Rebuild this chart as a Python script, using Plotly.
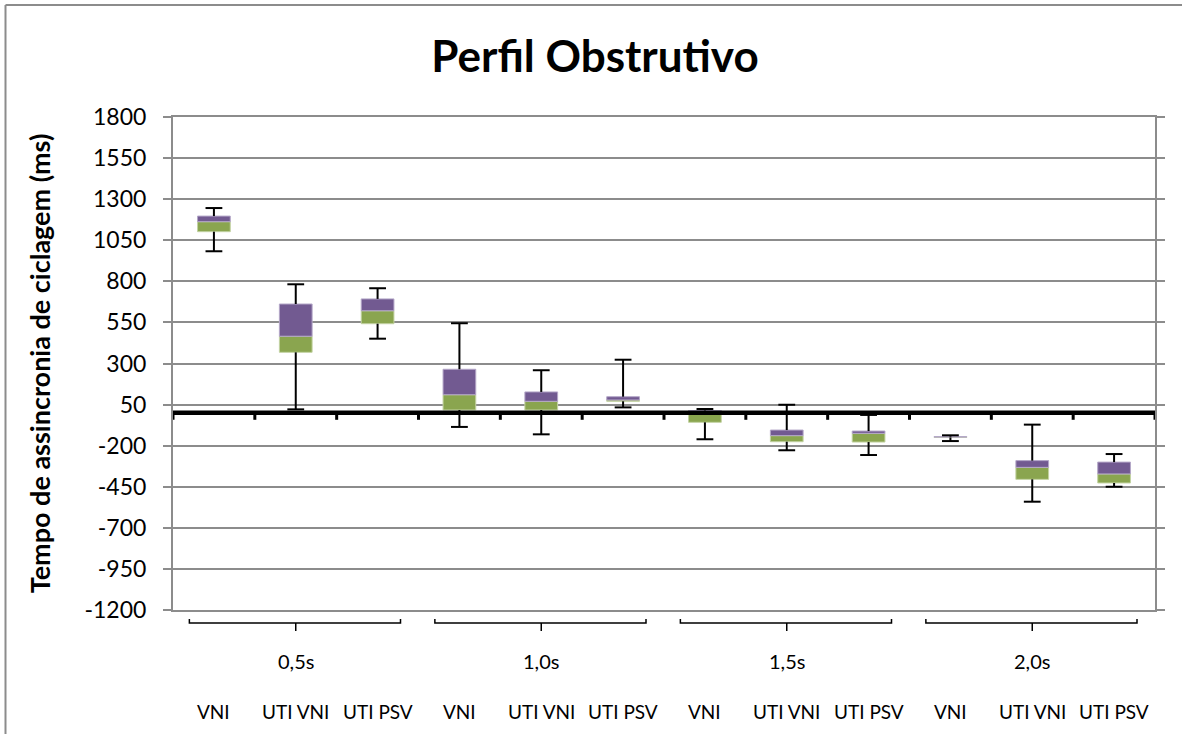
import plotly.graph_objects as go

# Grupos de tempo de ciclagem e modos ventilatórios
grupos = ["0,5s", "1,0s", "1,5s", "2,0s"]
modos = ["VNI", "UTI VNI", "UTI PSV"]

# Estatísticas de cada caixa (ms), na ordem grupo x modo
minimo = [983, 21, 451, -86, -131, 33, -161, -228, -257, -172, -541, -450]
q1 = [1102, 368, 542, 17, 17, 70, -58, -176, -178, -150, -405, -427]
mediana = [1163, 466, 621, 110, 70, 78, 12, -139, -125, -148, -332, -372]
q3 = [1197, 662, 693, 265, 127, 98, 14, -105, -111, -145, -291, -300]
maximo = [1246, 782, 758, 545, 259, 323, 23, 49, -13, -137, -72, -251]

y_ticks = list(range(-1200, 1801, 250))

n = len(mediana)
xs = [i + 0.5 for i in range(n)]

VERDE = "#8aa54f"
ROXO = "#725a91"
CINZA = "#8c8c8c"
FONTE = "Lato, 'Open Sans', sans-serif"

# Geometria da área de plotagem (px)
W, H = 1182, 734
L, R, T, B = 173, 27, 117, 124
PW, PH = W - L - R, H - T - B


def px_y(py):
    return (H - B - py) / PH


def px_x(px):
    return (px - L) / PW


fig = go.Figure()

# Bigodes: do quartil ao extremo
wx, wy = [], []
for i in range(n):
    wx += [xs[i], xs[i], None, xs[i], xs[i], None]
    wy += [q3[i], maximo[i], None, q1[i], minimo[i], None]
fig.add_trace(go.Scatter(x=wx, y=wy, mode="lines",
                         line=dict(color="black", width=2),
                         hoverinfo="skip", showlegend=False))
fig.add_trace(go.Scatter(x=xs + xs, y=maximo + minimo, mode="markers",
                         marker=dict(symbol="line-ew", size=12,
                                     line=dict(color="black", width=2)),
                         hoverinfo="skip", showlegend=False))

# Caixa inferior (Q1 -> mediana) e superior (mediana -> Q3)
fig.add_trace(go.Bar(x=xs, y=[m - a for m, a in zip(mediana, q1)], base=q1,
                     width=0.4, marker=dict(color=VERDE,
                                            line=dict(color="#c3d3a3", width=1)),
                     showlegend=False))
fig.add_trace(go.Bar(x=xs, y=[b - m for b, m in zip(q3, mediana)], base=mediana,
                     width=0.4, marker=dict(color=ROXO,
                                            line=dict(color="#b4a7c8", width=1)),
                     showlegend=False))

shapes = []
# Eixo de categorias cruzando em zero
shapes.append(dict(type="line", xref="x", yref="y", x0=0, x1=n, y0=0, y1=0,
                   line=dict(color="black", width=4.5), layer="above"))
for k in range(n + 1):
    shapes.append(dict(type="line", xref="x", yref="y", ysizemode="pixel", yanchor=0,
                       x0=k, x1=k, y0=0, y1=-7,
                       line=dict(color="black", width=3), layer="above"))

# Chaves dos grupos
yb = px_y(623)
ye = px_y(619)
yc = px_y(631)
for g in range(len(grupos)):
    a, b = 3 * g + 0.2, 3 * g + 2.78
    c = 3 * g + 1.5
    shapes.append(dict(type="path", xref="x", yref="paper",
                       path=f"M {a},{ye} L {a},{yb} L {b},{yb} L {b},{ye}",
                       line=dict(color="black", width=1.5)))
    shapes.append(dict(type="line", xref="x", yref="paper", x0=c, x1=c, y0=yb, y1=yc,
                       line=dict(color="black", width=1.5)))

# Moldura do gráfico (bordas esquerda e superior)
shapes.append(dict(type="line", xref="paper", yref="paper",
                   x0=px_x(5.5), x1=px_x(5.5), y0=px_y(5), y1=px_y(740),
                   line=dict(color=CINZA, width=2)))
shapes.append(dict(type="line", xref="paper", yref="paper",
                   x0=px_x(5.5), x1=px_x(1182), y0=px_y(5), y1=px_y(5),
                   line=dict(color=CINZA, width=2)))

annotations = []
for g, nome in enumerate(grupos):
    annotations.append(dict(x=3 * g + 1.5, y=px_y(661), xref="x", yref="paper",
                            yanchor="middle", text=nome, showarrow=False,
                            font=dict(family=FONTE, size=20, color="black")))
for i in range(n):
    annotations.append(dict(x=xs[i], y=px_y(711), xref="x", yref="paper",
                            yanchor="middle", text=modos[i % 3], showarrow=False,
                            font=dict(family=FONTE, size=19, color="black")))

fig.update_layout(
    width=W, height=H,
    margin=dict(l=L, r=R, t=T, b=B),
    paper_bgcolor="white", plot_bgcolor="white",
    barmode="overlay",
    title=dict(text="<b>Perfil Obstrutivo</b>", x=595 / W,
               xanchor="center", y=1 - 57 / H, yanchor="middle",
               font=dict(family=FONTE, size=44, color="black")),
    xaxis=dict(range=[0, n], showticklabels=False, showgrid=False, zeroline=False,
               showline=True, linecolor=CINZA, linewidth=2, mirror=True, ticks=""),
    yaxis=dict(range=[-1200, 1800], tickvals=y_ticks, ticktext=[str(v) for v in y_ticks],
               showgrid=True, gridcolor=CINZA, gridwidth=1.5, zeroline=False,
               showline=True, linecolor=CINZA, linewidth=2, mirror="ticks",
               ticks="outside", ticklen=8, tickcolor=CINZA, tickwidth=1.5,
               ticklabelstandoff=12,
               tickfont=dict(family=FONTE, size=23, color="black"),
               title=dict(text="<b>Tempo de assincronia de ciclagem (ms)</b>",
                          font=dict(family=FONTE, size=27, color="black"),
                          standoff=26)),
    shapes=shapes,
    annotations=annotations,
)

fig.write_html("out.html")
